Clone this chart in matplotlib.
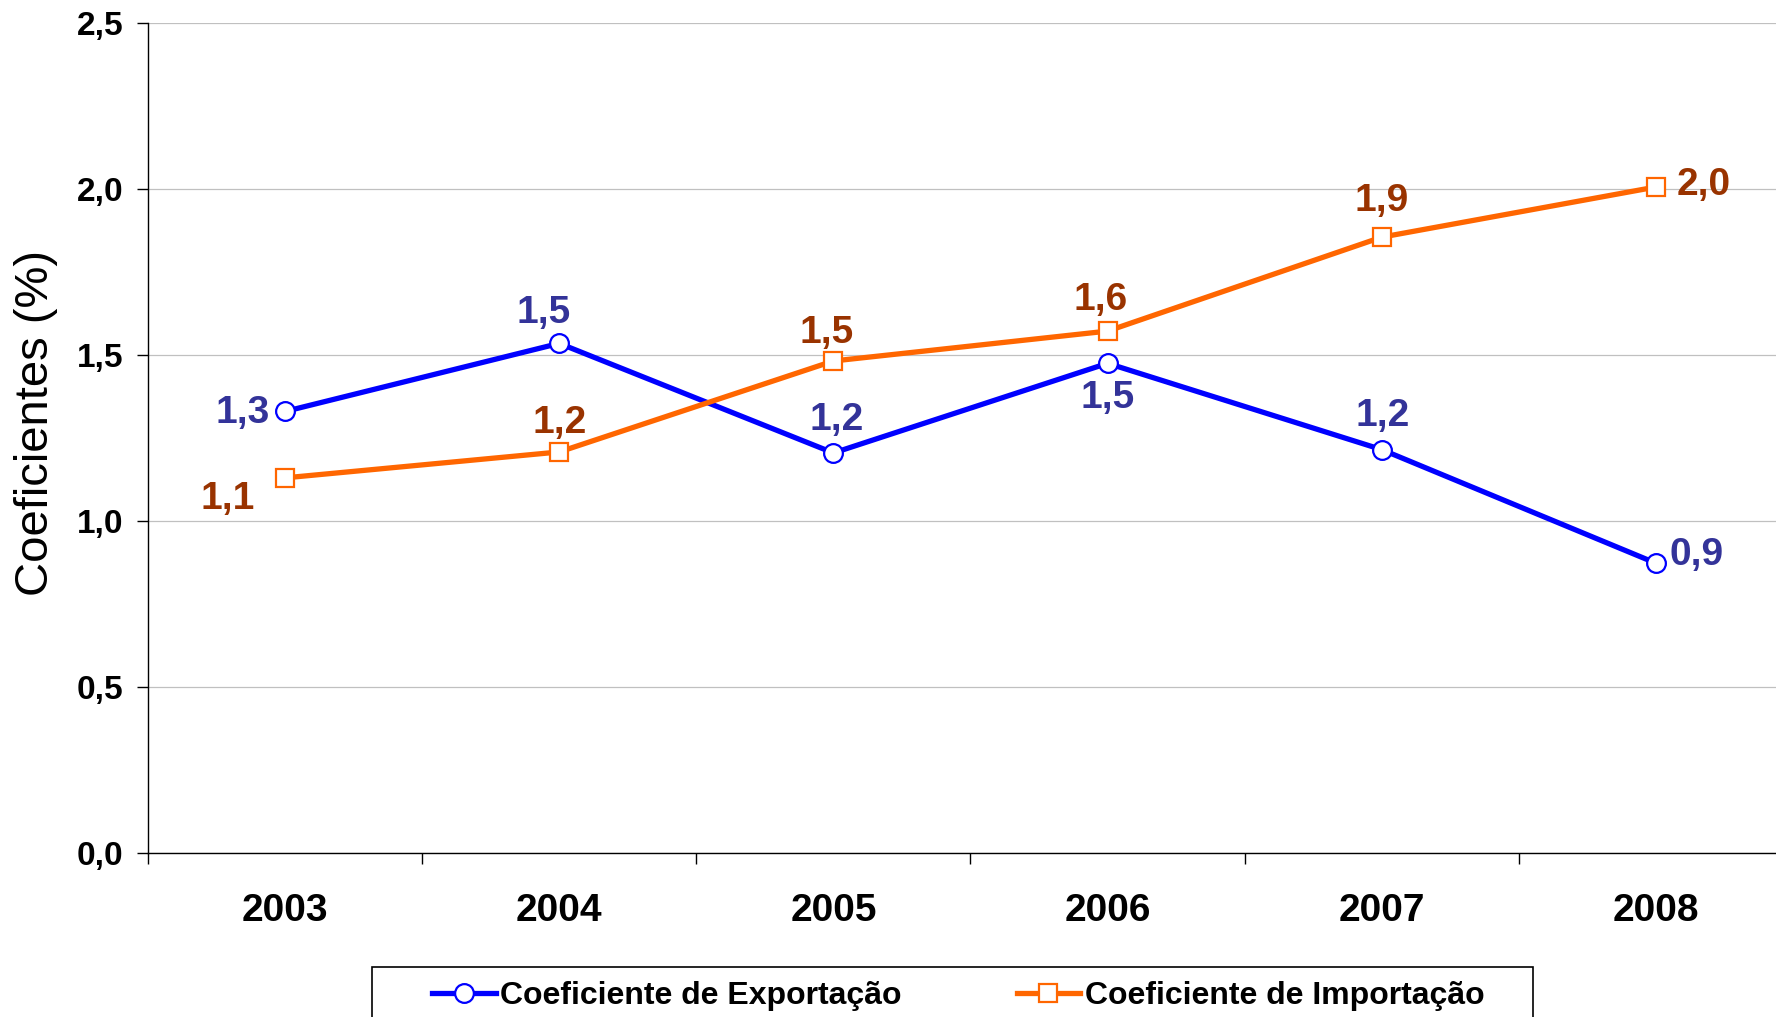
import matplotlib
matplotlib.use("Agg")
import matplotlib.pyplot as plt
from matplotlib.patches import Rectangle
from matplotlib.ticker import FixedLocator

years = ["2003", "2004", "2005", "2006", "2007", "2008"]
exportacao = [1.33, 1.535, 1.205, 1.475, 1.215, 0.873]
importacao = [1.13, 1.208, 1.482, 1.572, 1.855, 2.006]
export_labels = ["1,3", "1,5", "1,2", "1,5", "1,2", "0,9"]
import_labels = ["1,1", "1,2", "1,5", "1,6", "1,9", "2,0"]
yticks = [0.0, 0.5, 1.0, 1.5, 2.0, 2.5]
ytick_labels = ["0,0", "0,5", "1,0", "1,5", "2,0", "2,5"]

plt.rcParams['font.family'] = ['Liberation Sans', 'DejaVu Sans']

W, H = 1776, 1017
fig = plt.figure(figsize=(W / 100, H / 100), dpi=100)
ax = fig.add_axes([148 / W, 1 - 853 / H, 1645 / W, 830 / H])

x = list(range(len(years)))
blue = "#0000FF"
orange = "#FF6600"
blue_txt = "#333399"
orange_txt = "#993300"

ax.plot(x, exportacao, color=blue, lw=3.8, marker='o', ms=13.5,
        mfc='white', mec=blue, mew=1.6, label="Coeficiente de Exportação",
        zorder=3, clip_on=False)
ax.plot(x, importacao, color=orange, lw=3.8, marker='s', ms=12.5,
        mfc='white', mec=orange, mew=1.6, label="Coeficiente de Importação",
        zorder=3, clip_on=False)

# label offsets in pixels (dx, dy, ha)
exp_off = [(-15, -2, 'right'), (-16, 30, 'center'), (3, 33, 'center'),
           (0, -35, 'center'), (1, 34, 'center'), (14, 8, 'left')]
imp_off = [(-30, -21, 'right'), (0, 29, 'center'), (-7, 28, 'center'),
           (-7, 31, 'center'), (0, 36, 'center'), (21, 2, 'left')]
for i in x:
    dx, dy, ha = exp_off[i]
    ax.annotate(export_labels[i], (x[i], exportacao[i]), xytext=(dx, dy),
                textcoords='offset pixels', ha=ha, va='center',
                fontsize=28, fontweight='bold', color=blue_txt, zorder=4)
    dx, dy, ha = imp_off[i]
    ax.annotate(import_labels[i], (x[i], importacao[i]), xytext=(dx, dy),
                textcoords='offset pixels', ha=ha, va='center',
                fontsize=28, fontweight='bold', color=orange_txt, zorder=4)

ax.set_xlim(-0.5, 5.5)
ax.set_ylim(0, 2.5)
ax.set_yticks(yticks)
ax.set_yticklabels(ytick_labels, fontsize=24, fontweight='bold')
ax.set_xticks(x)
ax.set_xticklabels(years, fontsize=28, fontweight='bold')
ax.xaxis.set_minor_locator(FixedLocator([i - 0.5 for i in range(len(years) + 1)]))
ax.tick_params(axis='x', which='major', length=0, pad=29)
ax.tick_params(axis='x', which='minor', length=8, width=1, direction='out', color='black')
ax.tick_params(axis='y', which='major', length=8, width=1, direction='out', pad=10)

ax.grid(axis='y', color='#C0C0C0', lw=0.9)
ax.set_axisbelow(True)
for s in ['top', 'right']:
    ax.spines[s].set_visible(False)
for s in ['left', 'bottom']:
    ax.spines[s].set_color('black')
    ax.spines[s].set_linewidth(1.0)

ax.set_ylabel("Coeficientes (%)", fontsize=34, fontweight='normal')
ax.yaxis.set_label_coords((58 - 148) / 1645, (853 - 423) / 830)

# legend frame
fig.patches.append(Rectangle((372 / W, 1 - 1040 / H), (1533 - 372) / W, (1040 - 967) / H,
                             transform=fig.transFigure, fill=False, ec='black', lw=1.2))
leg = fig.legend(loc='center left', bbox_to_anchor=(432 / W, 1 - 996 / H),
                 bbox_transform=fig.transFigure, ncol=2, frameon=False,
                 prop={'size': 23, 'weight': 'bold'}, borderpad=0, borderaxespad=0,
                 handlelength=2.0, handletextpad=0.13, columnspacing=3.6)

fig.savefig("out.png", dpi=100)
